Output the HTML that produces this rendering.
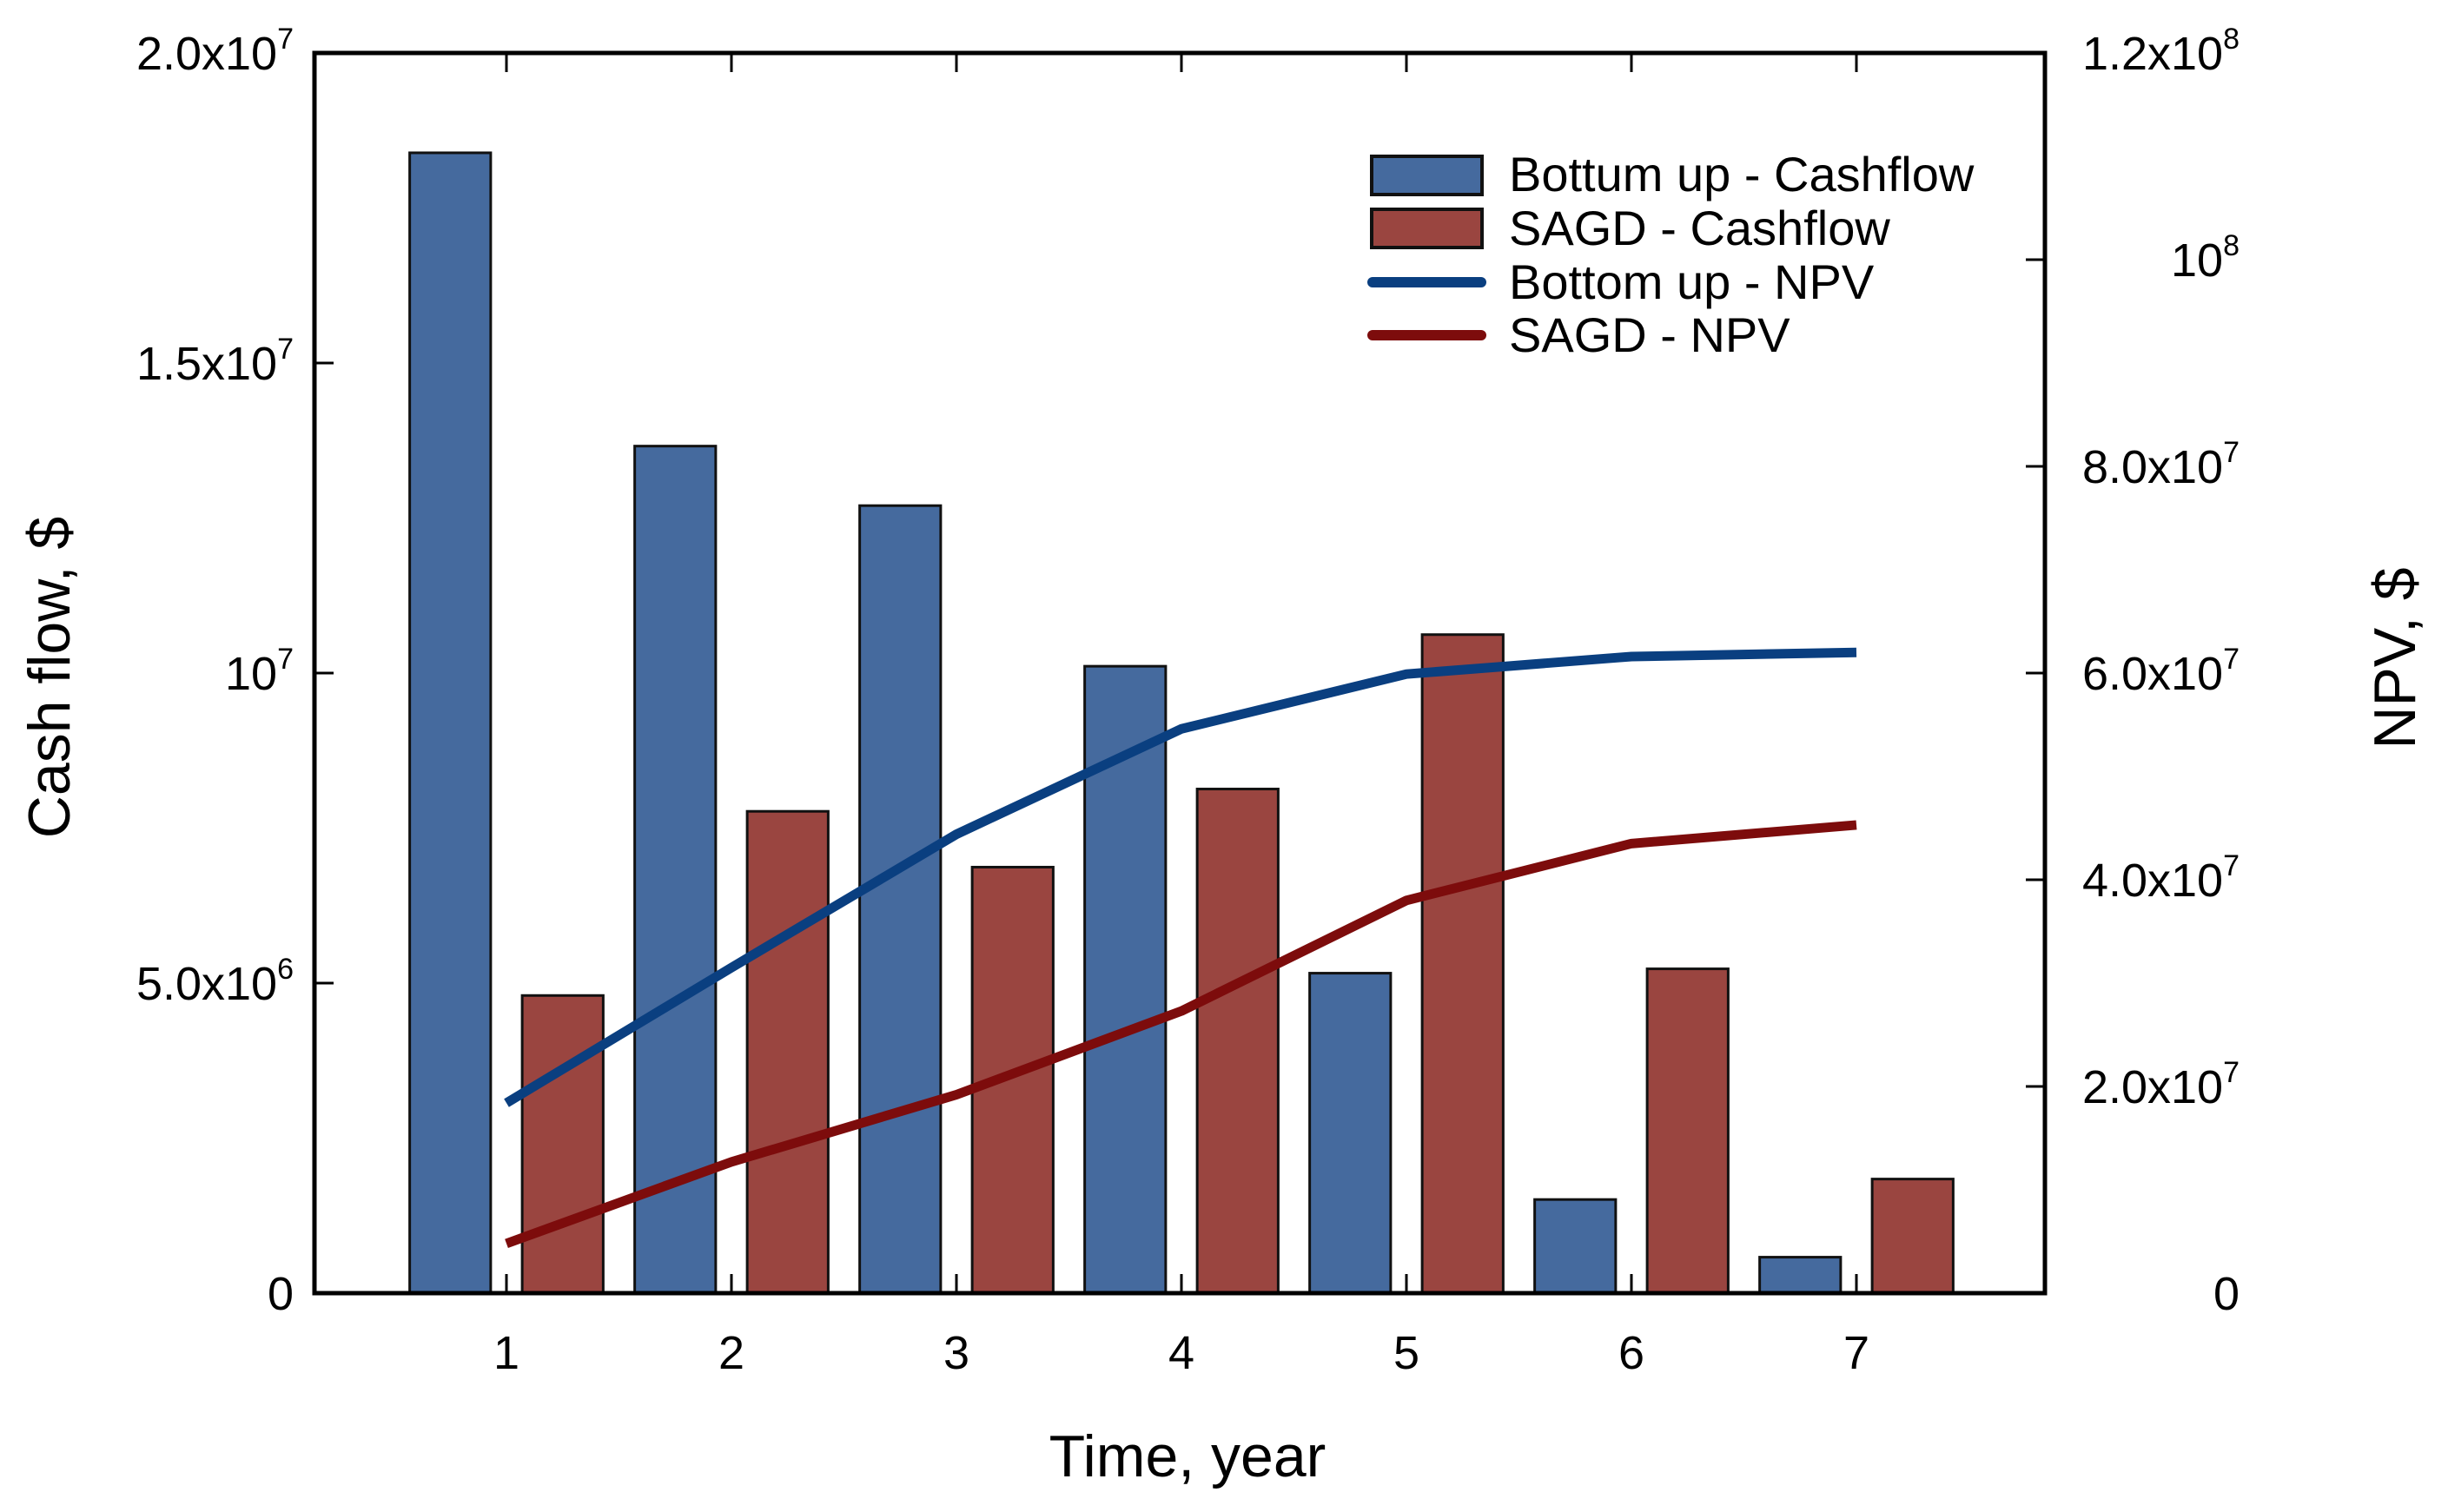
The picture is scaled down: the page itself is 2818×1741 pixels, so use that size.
<!DOCTYPE html>
<html><head><meta charset="utf-8"><style>
html,body{margin:0;padding:0;background:#fff;}
svg{display:block;font-family:"Liberation Sans",Arial,sans-serif;}
</style></head><body>
<svg id="chart" width="2818" height="1741" viewBox="0 0 2818 1741" xmlns="http://www.w3.org/2000/svg">
<g id="bars"></g>
<g id="lines"></g>
<g id="axes"></g>
<text x="1367" y="1700" font-size="68" text-anchor="middle">Time, year</text>
<text transform="translate(80,780) rotate(-90)" font-size="68" text-anchor="middle">Cash flow, $</text>
<text transform="translate(2780,758) rotate(-90)" font-size="68" text-anchor="middle">NPV, $</text>
<g>
<rect x="1579" y="180" width="127" height="44" fill="#456a9e" stroke="#111" stroke-width="4"/>
<rect x="1579" y="241" width="127" height="44" fill="#9a4540" stroke="#111" stroke-width="4"/>
<line x1="1580" y1="325" x2="1705" y2="325" stroke="#0a3f80" stroke-width="12" stroke-linecap="round"/>
<line x1="1580" y1="386" x2="1705" y2="386" stroke="#7d0c0c" stroke-width="12" stroke-linecap="round"/>
<text x="1737" y="220" font-size="56">Bottum up - Cashflow</text>
<text x="1737" y="282" font-size="56">SAGD - Cashflow</text>
<text x="1737" y="344" font-size="56">Bottom up - NPV</text>
<text x="1737" y="405" font-size="56">SAGD - NPV</text>
</g>
</svg>
<script>
const years = [1,2,3,4,5,6,7];
const bottomUpCashflow = [1.839e7,1.366e7,1.27e7,1.011e7,5.16e6,1.51e6,5.8e5];
const sagdCashflow = [4.8e6,7.77e6,6.87e6,8.13e6,1.062e7,5.23e6,1.84e6];
const bottomUpNPV = [1.84e7,3.15e7,4.44e7,5.46e7,5.99e7,6.16e7,6.2e7];
const sagdNPV = [4.8e6,1.27e7,1.92e7,2.73e7,3.8e7,4.35e7,4.53e7];
const leftTicks = [0,5e6,1e7,1.5e7,2e7];
const leftTickLabels = [["0",""],["5.0x10","6"],["10","7"],["1.5x10","7"],["2.0x10","7"]];
const rightTicks = [0,2e7,4e7,6e7,8e7,1e8,1.2e8];
const rightTickLabels = [["0",""],["2.0x10","7"],["4.0x10","7"],["6.0x10","7"],["8.0x10","7"],["10","8"],["1.2x10","8"]];

const L=362,R=2354,T=61,B=1489;
const NS="http://www.w3.org/2000/svg";
function xs(v){return 583+259*(v-1);}
function yl(v){return B-(v/2e7)*(B-T);}
function yr(v){return B-(v/1.2e8)*(B-T);}
function mk(tag,attrs,parent){const e=document.createElementNS(NS,tag);for(const k in attrs)e.setAttribute(k,attrs[k]);parent.appendChild(e);return e;}
const bars=document.getElementById('bars'),lines=document.getElementById('lines'),axes=document.getElementById('axes');
const bw=0.36*259;
years.forEach((yv,i)=>{
  let r=mk('rect',{x:xs(yv-0.25)-bw/2,y:yl(bottomUpCashflow[i]),width:bw,height:B-yl(bottomUpCashflow[i]),fill:'#456a9e',stroke:'#111','stroke-width':3},bars);
  
  
  let s=mk('rect',{x:xs(yv+0.25)-bw/2,y:yl(sagdCashflow[i]),width:bw,height:B-yl(sagdCashflow[i]),fill:'#9a4540',stroke:'#111','stroke-width':3},bars);
  
  
});
function line(vals,color,name){
  const p=mk('polyline',{points:years.map((yv,i)=>xs(yv)+','+yr(vals[i])).join(' '),fill:'none',stroke:color,'stroke-width':11,'stroke-linejoin':'round'},lines);
  
  
}
line(bottomUpNPV,'#0a3f80','line-bottomup-npv');
line(sagdNPV,'#7d0c0c','line-sagd-npv');
const frame=mk('rect',{x:L,y:T,width:R-L,height:B-T,fill:'none',stroke:'#000','stroke-width':5},axes);


function label(x,y,parts,anchor,name){
  const t=mk('text',{x:x,y:y,'font-size':54,'text-anchor':anchor},axes);
  
  
  t.appendChild(document.createTextNode(parts[0]));
  if(parts[1]){const s=mk('tspan',{dy:-24,'font-size':34},t);s.textContent=parts[1];}
}
years.forEach(yv=>{
  mk('line',{x1:xs(yv),y1:B,x2:xs(yv),y2:B-22,stroke:'#000','stroke-width':3},axes);
  mk('line',{x1:xs(yv),y1:T,x2:xs(yv),y2:T+22,stroke:'#000','stroke-width':3},axes);
  label(xs(yv),1576,[String(yv),''],'middle','x-tick-label-'+yv);
});
leftTicks.forEach((v,i)=>{
  mk('line',{x1:L,y1:yl(v),x2:L+22,y2:yl(v),stroke:'#000','stroke-width':3},axes);
  label(338,yl(v)+19,leftTickLabels[i],'end','y-left-tick-label-'+i);
});
rightTicks.forEach((v,i)=>{
  mk('line',{x1:R,y1:yr(v),x2:R-22,y2:yr(v),stroke:'#000','stroke-width':3},axes);
  label(2578,yr(v)+19,rightTickLabels[i],'end','y-right-tick-label-'+i);
});
</script>
</body></html>
